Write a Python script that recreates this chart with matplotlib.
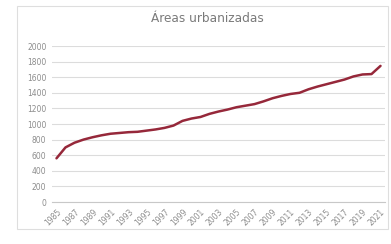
import matplotlib
matplotlib.use("Agg")
import matplotlib.pyplot as plt
from matplotlib.patches import Rectangle

years = list(range(1985, 2022))
values = [560, 700, 760, 800, 830, 855, 875, 885, 895, 900,
          915, 930, 950, 980, 1040, 1070, 1090, 1130, 1160, 1185,
          1215, 1235, 1255, 1290, 1330, 1360, 1385, 1400, 1445, 1480,
          1510, 1540, 1570, 1610, 1635, 1640, 1745]
yticks = list(range(0, 2001, 200))
title = "Áreas urbanizadas"

W, H = 391, 244
fig = plt.figure(figsize=(W/100, H/100), dpi=100)
fig.patches.append(Rectangle((17/W, 1-229/H), (388-17)/W, (229-6)/H,
                             transform=fig.transFigure, fill=False,
                             edgecolor="#dedede", lw=0.8))
ax = fig.add_axes([52/W, 1-202/H, 333/W, 156/H])
x = list(range(len(years)))
ax.plot(x, values, color="#96283A", lw=1.8, solid_capstyle="round")
ax.set_xlim(-0.5, len(years)-0.5)
ax.set_ylim(0, 2000)
ax.set_yticks(yticks)
ax.set_yticklabels([str(v) for v in yticks], fontsize=5.5, color="#8c8c8c")
ax.set_xticks(x[::2])
ax.set_xticklabels([str(y) for y in years[::2]], fontsize=5.5, color="#8c8c8c",
                   rotation=45, ha="right", rotation_mode="anchor")
ax.grid(axis="y", color="#dcdcdc", lw=0.8)
ax.set_axisbelow(True)
for s in ["top", "right", "left"]:
    ax.spines[s].set_visible(False)
ax.spines["bottom"].set_color("#c8c8c8")
ax.tick_params(axis="both", length=0, pad=4)
fig.text(0.53, 1-18/H, title, ha="center", va="center", fontsize=8.7, color="#7a7a7a")
fig.savefig("out.png", dpi=100)
